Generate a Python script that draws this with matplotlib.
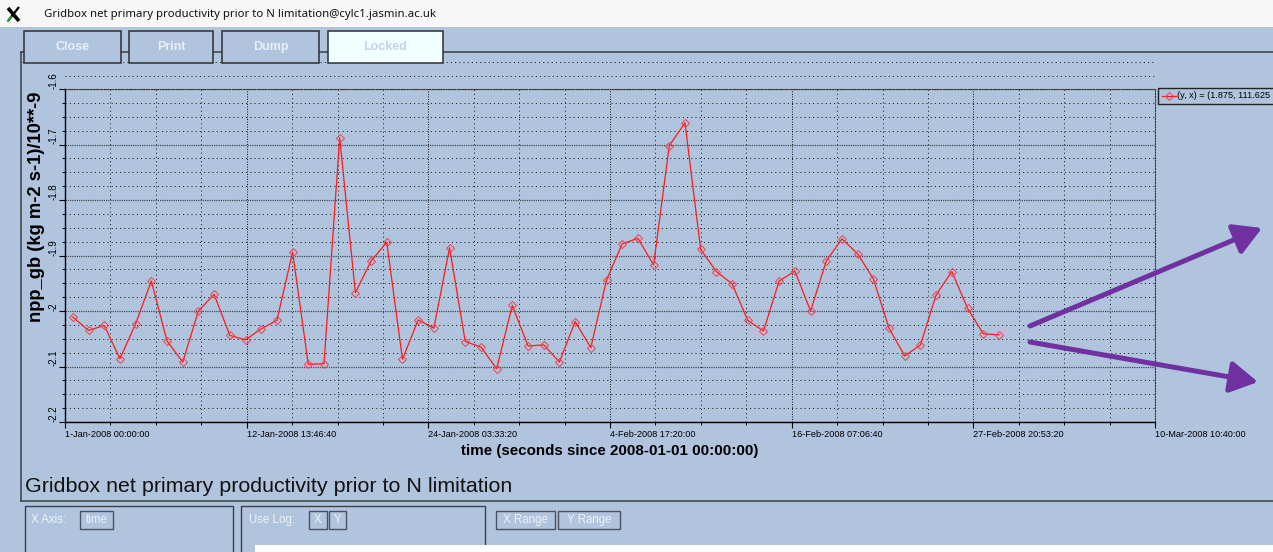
import numpy as np
import matplotlib.pyplot as plt
from matplotlib.patches import Rectangle

plt.rcParams['font.family'] = ['Liberation Sans', 'DejaVu Sans']

W, H = 1273, 552

# one value per day (noon), 1 Jan - 29 Feb 2008
n_days = 60
time_s = (np.arange(n_days) + 0.5) * 86400
npp = [-2.011, -2.035, -2.026, -2.086, -2.023, -1.946, -2.054, -2.092, -2.000, -1.970,
       -2.044, -2.052, -2.032, -2.017, -1.894, -2.096, -2.095, -1.688, -1.967, -1.910,
       -1.876, -2.087, -2.016, -2.031, -1.886, -2.055, -2.065, -2.104, -1.990, -2.063,
       -2.061, -2.092, -2.019, -2.066, -1.944, -1.879, -1.869, -1.917, -1.702, -1.661,
       -1.889, -1.929, -1.951, -2.017, -2.036, -1.946, -1.928, -2.000, -1.910, -1.870,
       -1.897, -1.942, -2.031, -2.081, -2.061, -1.971, -1.929, -1.995, -2.041, -2.043]

xtick_s = [0, 1e6, 2e6, 3e6, 4e6, 5e6, 6e6]
xtick_lab = ["1-Jan-2008 00:00:00", "12-Jan-2008 13:46:40", "24-Jan-2008 03:33:20",
             "4-Feb-2008 17:20:00", "16-Feb-2008 07:06:40", "27-Feb-2008 20:53:20",
             "10-Mar-2008 10:40:00"]
ytick_v = [-2.2, -2.1, -2.0, -1.9, -1.8, -1.7, -1.6]
ytick_lab = ["-2.2", "-2.1", "-2", "-1.9", "-1.8", "-1.7", "-1.6"]

bg = '#b0c4de'
fig = plt.figure(figsize=(W / 100, H / 100), dpi=100, facecolor=bg)


def px(x0, y0, x1, y1):
    # pixel box (top-left origin) -> figure fraction rect
    return [x0 / W, 1 - y1 / H, (x1 - x0) / W, (y1 - y0) / H]


# --- the plot itself
ax = fig.add_axes(px(65, 89, 1155, 422))
ax.set_facecolor('none')
ax.plot(time_s, npp, color='#ff1a1a', lw=0.9, marker='D', ms=3.6,
        mfc='none', mec='#f0404e', mew=0.7, zorder=3)
ax.set_xlim(0, 6e6)
ax.set_ylim(-2.2, -1.6)
ax.set_xticks(xtick_s)
ax.set_xticklabels(xtick_lab)
ax.set_xticks(np.arange(0, 6e6 + 1, 250000), minor=True)
ax.set_yticks(ytick_v)
ax.set_yticklabels(ytick_lab)
ax.set_yticks(np.arange(-2.2, -1.599, 0.025), minor=True)

ax.xaxis.grid(True, which='minor', color='#1a1a1a', lw=0.72, ls=(0, (1, 3.2)))
ax.xaxis.grid(True, which='major', color='#1a1a1a', lw=0.72, ls=(0, (1, 1.5)))
ax.yaxis.grid(True, which='minor', color='#1a1a1a', lw=0.72, ls=(0, (1, 3.2)))
ax.yaxis.grid(True, which='major', color='#454a55', lw=0.9, ls=(0, (1, 0.8)))

for s in ['top', 'right']:
    ax.spines[s].set_linestyle((0, (1, 1.5)))
    ax.spines[s].set_linewidth(0.8)
    ax.spines[s].set_color('#333333')
for s in ['left', 'bottom']:
    ax.spines[s].set_linewidth(1.0)

ax.tick_params(which='major', direction='out', length=4, width=0.8, labelsize=6.6, pad=1.5)
ax.tick_params(which='minor', direction='out', length=2.5, width=0.7)
ax.tick_params(axis='y', labelrotation=90, labelsize=7, pad=0.5)
for lab in ax.get_xticklabels():
    lab.set_ha('left')
for lab in ax.get_yticklabels():
    lab.set_va('bottom')

# extra dotted line above the plot box
ax.plot([0, 1], [1.039, 1.039], transform=ax.transAxes, clip_on=False,
        color='#1a1a1a', lw=0.72, ls=(0, (1, 3.2)))

fig.text(37 / W, 1 - 207 / H, 'npp_gb (kg m-2 s-1)/10**-9', rotation=90,
         ha='center', va='center', fontsize=13.2, weight='bold')
fig.text(610 / W, 1 - 451 / H, 'time (seconds since 2008-01-01 00:00:00)',
         ha='center', va='center', fontsize=10.9, weight='bold')

# --- window chrome drawn in pixel coordinates
ov = fig.add_axes([0, 0, 1, 1], zorder=5)
ov.set_xlim(0, W)
ov.set_ylim(H, 0)
ov.axis('off')

ov.add_patch(Rectangle((0, 0), W, 27, fc='#f7f7f7', ec='none'))
ov.plot([8, 19], [8, 21], color='black', lw=2.6, solid_capstyle='butt')
ov.plot([19, 8], [7, 21], color='black', lw=1.6, solid_capstyle='butt')
ov.plot([11, 8], [17, 21], color='#2e9a3a', lw=1.4)
ov.text(44, 14, 'Gridbox net primary productivity prior to N limitation@cylc1.jasmin.ac.uk',
        va='center', ha='left', fontsize=8.2, family='Noto Sans', color='#111111')

frame = '#3a3f48'
ov.plot([21, W], [52, 52], color=frame, lw=1.1)
ov.plot([21, 21], [52, 501], color=frame, lw=1.1)
ov.plot([21, W], [501, 501], color=frame, lw=1.1)
ov.plot([22, 1155], [62, 62], color='#1a1a1a', lw=0.72, ls=(0, (1, 3.2)))

buttons = [('Close', 24, 121), ('Print', 129, 213), ('Dump', 222, 319), ('Locked', 328, 443)]
for name, x0, x1 in buttons:
    locked = name == 'Locked'
    ov.add_patch(Rectangle((x0, 31), x1 - x0, 32, fc='#f0ffff' if locked else bg,
                           ec='#2f2f2f', lw=1.1, zorder=4))
    ov.text((x0 + x1) / 2, 47, name, ha='center', va='center', fontsize=9, weight='bold',
            color='#c3d3e8' if locked else '#e9eef5', zorder=5)

ov.text(25, 486, 'Gridbox net primary productivity prior to N limitation',
        ha='left', va='center', fontsize=15.4, color='#111111')

# bottom control panels
ov.add_patch(Rectangle((25, 506), 208, 60, fc='none', ec=frame, lw=1.0))
ov.add_patch(Rectangle((241, 506), 244, 60, fc='none', ec=frame, lw=1.0))
small = dict(va='center', fontsize=8.3, color='#eef2f8')
ov.text(31, 520, 'X Axis:', ha='left', **small)
ov.text(249, 520, 'Use Log:', ha='left', **small)
for name, x0, x1 in [('time', 80, 113), ('X', 309, 327), ('Y', 329, 346),
                     ('X Range', 496, 555), ('Y Range', 558, 620)]:
    ov.add_patch(Rectangle((x0, 511), x1 - x0, 18, fc='none', ec='#4a5262', lw=1.0))
    ov.text((x0 + x1) / 2, 520, name, ha='center', **small)
ov.add_patch(Rectangle((255, 545), W - 255, 10, fc='white', ec='none'))

# legend box (runs into the window edge)
ov.add_patch(Rectangle((1158, 88), 160, 16, fc='none', ec='#222222', lw=1.0))
ov.plot([1162, 1176], [96, 96], color='#ff1a1a', lw=0.9)
ov.plot([1169], [96], marker='D', ms=3.6, mfc='none', mec='#f0404e', mew=0.7)
ov.text(1177, 96, '(y, x) = (1.875, 111.625', ha='left', va='center', fontsize=6.6)

# purple arrows added on the screenshot
arrow = dict(arrowstyle='-|>,head_length=0.7,head_width=0.4', color='#7030a0',
             lw=3.6, mutation_scale=24, shrinkA=0, shrinkB=0)
ov.annotate('', xy=(1262, 228), xytext=(1030, 326), arrowprops=arrow)
ov.annotate('', xy=(1258, 382), xytext=(1030, 342), arrowprops=arrow)

fig.savefig('out.png', dpi=100, facecolor=bg)
